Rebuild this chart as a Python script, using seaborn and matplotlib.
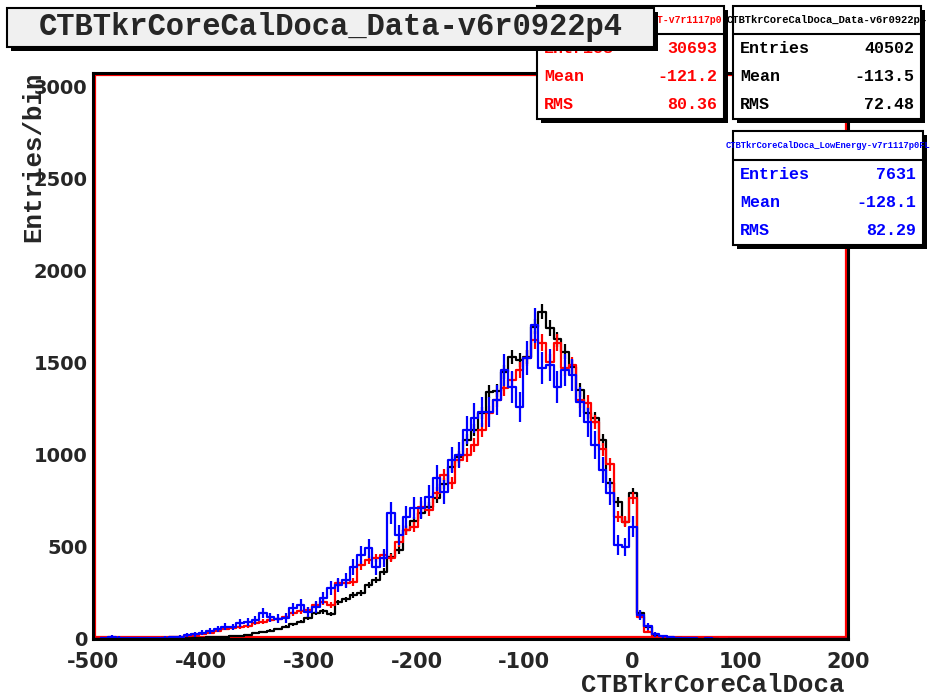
import numpy as np
import pandas as pd
import seaborn as sns
import matplotlib
matplotlib.use('Agg')
import matplotlib.pyplot as plt
from matplotlib.patches import Rectangle
from matplotlib.lines import Line2D

# Histogram binning: 100 bins of width 7 between -500 and 200
x_lo, x_hi, n_bins = -500, 200, 100

# Bin contents (one value per bin, left to right)
data_counts = [0, 1, 0, 1, 1, 2, 1, 2, 2, 3,
               3, 4, 5, 6, 7, 9, 11, 13, 16, 19,
               24, 30, 38, 45, 55, 67, 80, 94, 115, 141,
               150, 135, 200, 215, 240, 250, 294, 320, 365, 447,
               483, 590, 640, 685, 720, 766, 845, 936, 990, 1080,
               1136, 1228, 1344, 1350, 1453, 1534, 1516, 1534, 1697, 1779,
               1690, 1630, 1561, 1480, 1353, 1228, 1201, 1081, 848, 746,
               637, 793, 141, 67, 22, 8, 5, 3, 2, 2,
               1, 1, 0, 1, 0, 0, 1, 0, 0, 0,
               0, 0, 0, 0, 0, 0, 0, 0, 0, 0]

default_counts = [2, 1, 2, 3, 2, 3, 4, 5, 6, 8,
                  10, 13, 16, 22, 28, 32, 45, 55, 62, 65,
                  70, 85, 95, 103, 110, 120, 140, 150, 158, 185,
                  201, 185, 304, 304, 310, 400, 429, 440, 456, 440,
                  527, 592, 609, 717, 701, 793, 891, 848, 973, 1000,
                  1054, 1136, 1228, 1300, 1364, 1408, 1462, 1527, 1625, 1609,
                  1505, 1609, 1473, 1489, 1299, 1283, 1179, 1030, 950, 665,
                  637, 766, 120, 40, 12, 8, 5, 4, 3, 2,
                  2, 1, 2, 3, 1, 1, 0, 1, 0, 0,
                  0, 0, 0, 0, 0, 0, 0, 0, 0, 0]

lowe_counts = [0, 3, 12, 8, 4, 3, 4, 5, 6, 8,
               10, 12, 20, 25, 34, 45, 52, 67, 65, 85,
               92, 103, 141, 118, 110, 114, 168, 185, 147, 174,
               223, 277, 293, 320, 391, 456, 494, 391, 440, 685,
               565, 663, 712, 712, 772, 875, 799, 973, 1000, 1136,
               1201, 1234, 1234, 1300, 1462, 1370, 1261, 1527, 1706, 1473,
               1489, 1370, 1462, 1435, 1288, 1179, 1054, 918, 793, 511,
               500, 609, 130, 70, 25, 15, 10, 6, 4, 3,
               2, 3, 1, 2, 0, 1, 0, 0, 0, 0,
               0, 0, 0, 0, 0, 0, 0, 0, 0, 0]

# Stat box contents
data_stats = [40502, -113.5, 72.48]
default_stats = [30693, -121.2, 80.36]
lowe_stats = [7631, -128.1, 82.29]

data_name = 'CTBTkrCoreCalDoca_Data-v6r0922p4'
default_name = 'CTBTkrCoreCalDoca_DEFAULT-v7r1117p0'
lowe_name = 'CTBTkrCoreCalDoca_LowEnergy-v7r1117p0FL'

W, H = 932, 696
sns.set_style('white')
plt.rcParams['axes.unicode_minus'] = False

fig = plt.figure(figsize=(W / 100, H / 100), dpi=100)
ax = fig.add_axes([93 / W, 1 - 639 / H, (848 - 93) / W, (639 - 73) / H])

bw = (x_hi - x_lo) / n_bins
centers = x_lo + bw * (np.arange(n_bins) + 0.5)

# Red frame drawn just inside the black one
ax.add_patch(Rectangle((0.002, 0.003), 0.996, 0.994, transform=ax.transAxes,
                       fill=False, edgecolor='red', lw=1.6, zorder=1))

series = [(data_counts, data_stats[0], 'black'),
          (default_counts, default_stats[0], 'red'),
          (lowe_counts, lowe_stats[0], 'blue')]

for i, (counts, entries, col) in enumerate(series):
    df = pd.DataFrame({'doca': centers, 'n': counts})
    sns.histplot(data=df, x='doca', weights='n', binwidth=bw,
                 binrange=(x_lo, x_hi), element='step', fill=False,
                 color=col, linewidth=1.6, ax=ax, zorder=2 + i)
    # errors scaled to the normalisation of the data histogram
    scale = data_stats[0] / entries
    err = np.sqrt(np.array(counts) * scale)
    ax.errorbar(centers, counts, yerr=err, fmt='none', ecolor=col,
                elinewidth=1.6, capsize=0, zorder=2 + i)

ax.set_xlim(x_lo, x_hi)
ax.set_ylim(0, 3076)
ax.set_xticks(np.arange(-500, 201, 100))
ax.set_xticks(np.arange(-500, 201, 20), minor=True)
ax.set_yticks(np.arange(0, 3001, 500))
ax.set_yticks(np.arange(0, 3001, 100), minor=True)
ax.set_xlabel('')
ax.set_ylabel('')
ax.tick_params(axis='y', which='major', direction='in', length=14, width=1.4,
               pad=4, labelsize=14)
ax.tick_params(axis='y', which='minor', direction='in', length=7, width=1.4)
ax.tick_params(axis='x', which='major', direction='in', length=11, width=1.4,
               pad=9, labelsize=15)
ax.tick_params(axis='x', which='minor', direction='in', length=5.5, width=1.4)
for lab in ax.get_xticklabels() + ax.get_yticklabels():
    lab.set_fontweight('bold')
for sp in ax.spines.values():
    sp.set_color('black')
    sp.set_linewidth(2.2)
    sp.set_zorder(6)

mono = 'Liberation Mono'

# Axis titles
fig.text(845 / W, 1 - 685 / H, 'CTBTkrCoreCalDoca', ha='right', va='center',
         family=mono, fontweight='bold', fontsize=18.5)
fig.text(33 / W, 1 - 72 / H, 'Entries/bin', rotation=90, ha='center', va='top',
         family=mono, fontweight='bold', fontsize=18.5)


def pbox(x0, y0, x1, y1, z, face='white', shadow=4):
    fig.add_artist(Rectangle(((x0 + shadow) / W, 1 - (y1 + shadow) / H),
                             (x1 - x0) / W, (y1 - y0) / H,
                             facecolor='black', edgecolor='none', zorder=z))
    box = Rectangle((x0 / W, 1 - y1 / H), (x1 - x0) / W, (y1 - y0) / H,
                    facecolor=face, edgecolor='black', lw=1.5, zorder=z + 0.1)
    fig.add_artist(box)
    return box


def stat_box(x0, y0, x1, y1, sep, name, stats, col, z, name_size, align='center'):
    pbox(x0, y0, x1, y1, z)
    fig.add_artist(Line2D([x0 / W, x1 / W], [1 - sep / H, 1 - sep / H],
                          color='black', lw=1.5, zorder=z + 0.2))
    if align == 'right':
        fig.text((x1 - 2) / W, 1 - (y0 + sep) / 2 / H, name, ha='right',
                 va='center', color=col, family=mono, fontweight='bold',
                 fontsize=name_size, zorder=z + 0.3)
    else:
        fig.text((x0 + x1) / 2 / W, 1 - (y0 + sep) / 2 / H, name, ha='center',
                 va='center', color=col, family=mono, fontweight='bold',
                 fontsize=name_size, zorder=z + 0.3)
    labels = ['Entries', 'Mean', 'RMS']
    vals = ['%d' % stats[0], '%.1f' % stats[1], '%.2f' % stats[2]]
    step = (y1 - sep) / 3.0
    for j in range(3):
        yy = sep + step * (j + 0.5)
        fig.text((x0 + 7) / W, 1 - yy / H, labels[j], ha='left', va='center',
                 color=col, family=mono, fontweight='bold', fontsize=12,
                 zorder=z + 0.3)
        fig.text((x1 - 7) / W, 1 - yy / H, vals[j], ha='right', va='center',
                 color=col, family=mono, fontweight='bold', fontsize=12,
                 zorder=z + 0.3)


# Stat boxes (red one sits partly under the title)
stat_box(537, 6, 724, 119, 34, default_name, default_stats, 'red', 10, 7,
         align='right')
stat_box(733, 6, 921, 119, 34, data_name, data_stats, 'black', 10, 7.6)
stat_box(733, 131, 923, 245, 160, lowe_name, lowe_stats, 'blue', 10, 6.3)

# Title pave
pbox(7, 8, 654, 47, 20, face='#f0f0f0')
fig.text(331 / W, 1 - 27 / H, data_name, ha='center', va='center',
         family=mono, fontweight='bold', fontsize=22, zorder=21)

plt.savefig('out.png', dpi=100)
